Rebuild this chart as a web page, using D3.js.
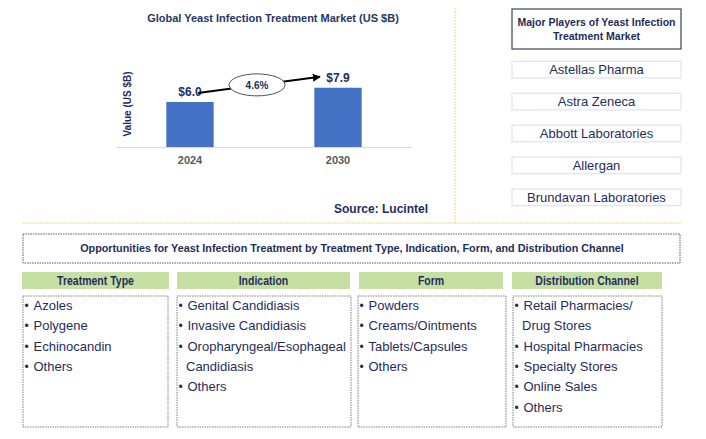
<!DOCTYPE html>
<html><head><meta charset="utf-8">
<script src="https://cdn.jsdelivr.net/npm/d3@7"></script>
<style>body{margin:0;background:#fff}svg{display:block}</style>
</head><body>
<svg id="c" width="706" height="439"></svg>
<script>
const years = ["2024", "2030"];
const values = [6.0, 7.9];
const valueLabels = ["$6.0", "$7.9"];
const cagr = "4.6%";
const chartTitle = "Global Yeast Infection Treatment Market (US $B)";
const yTitle = "Value (US $B)";
const source = "Source: Lucintel";
const playersTitle = ["Major Players of Yeast Infection", "Treatment Market"];
const players = ["Astellas Pharma", "Astra Zeneca", "Abbott Laboratories", "Allergan", "Brundavan Laboratories"];
const oppTitle = "Opportunities for Yeast Infection Treatment by Treatment Type, Indication, Form, and Distribution Channel";
const segments = ["Treatment Type", "Indication", "Form", "Distribution Channel"];
const treatmentTypes = [["Azoles"], ["Polygene"], ["Echinocandin"], ["Others"]];
const indications = [["Genital Candidiasis"], ["Invasive Candidiasis"], ["Oropharyngeal/Esophageal", "Candidiasis"], ["Others"]];
const forms = [["Powders"], ["Creams/Ointments"], ["Tablets/Capsules"], ["Others"]];
const channels = [["Retail Pharmacies/", "Drug Stores"], ["Hospital Pharmacies"], ["Specialty Stores"], ["Online Sales"], ["Others"]];
const segmentItems = [treatmentTypes, indications, forms, channels];

const svg = d3.select("#c");
const navy = "#1f2d5c";
const FONT = "'Liberation Sans', Arial, sans-serif";

function narrow(sel, factor) {
  sel.each(function () {
    const w = this.getComputedTextLength();
    d3.select(this).attr("textLength", w * factor).attr("lengthAdjust", "spacingAndGlyphs");
  });
}

// separators
svg.append("line").attr("x1", 455).attr("x2", 455).attr("y1", 8).attr("y2", 223)
  .attr("stroke", "#f7d774").attr("stroke-width", 1).attr("stroke-dasharray", "2,1");
svg.append("line").attr("x1", 22).attr("x2", 681).attr("y1", 223).attr("y2", 223)
  .attr("stroke", "#f7d774").attr("stroke-width", 1.2).attr("stroke-dasharray", "2,1");

// bar chart
const x = d3.scaleBand().domain(years).range([116, 412]).paddingInner(0.68).paddingOuter(0.34);
const y = d3.scaleLinear().domain([0, 10]).range([147, 72]);
const g = svg.append("g");
g.append("text").attr("x", 273).attr("y", 22).attr("text-anchor", "middle")
  .attr("font-family", FONT).attr("font-weight", "bold").attr("font-size", 11)
  .attr("fill", "#1f3864").text(chartTitle);
g.selectAll("rect.bar").data(values).join("rect").attr("class", "bar")
  .attr("x", (d, i) => x(years[i])).attr("width", x.bandwidth())
  .attr("y", d => y(d)).attr("height", d => y(0) - y(d)).attr("fill", "#4472c4");
const xAxis = g.append("g").attr("transform", `translate(0,${y(0)})`)
  .call(d3.axisBottom(x).tickSize(0).tickPadding(9));
xAxis.select(".domain").attr("stroke", "#d9d9d9");
xAxis.selectAll("text").attr("font-family", FONT).attr("font-weight", "bold")
  .attr("font-size", 11).attr("fill", "#595959");
g.selectAll("text.vl").data(values).join("text").attr("class", "vl")
  .attr("x", (d, i) => x(years[i]) + x.bandwidth() / 2).attr("y", d => y(d) - 6)
  .attr("text-anchor", "middle").attr("font-family", FONT).attr("font-weight", "bold")
  .attr("font-size", 12).attr("fill", navy).text((d, i) => valueLabels[i]);
g.append("text").attr("transform", "translate(131,104) rotate(-90)").attr("text-anchor", "middle")
  .attr("font-family", FONT).attr("font-weight", "bold").attr("font-size", 10)
  .attr("fill", navy).text(yTitle);

// arrow
svg.append("defs").append("marker").attr("id", "ah").attr("viewBox", "0 0 10 10")
  .attr("refX", 9).attr("refY", 5).attr("markerWidth", 4).attr("markerHeight", 4)
  .attr("orient", "auto").append("path").attr("d", "M0,0L10,5L0,10z").attr("fill", "#000");
const c0 = x(years[0]) + x.bandwidth() / 2, c1 = x(years[1]) + x.bandwidth() / 2;
const ax0 = c0 + 8, ay0 = y(values[0]) - 9, ax1 = c1 - 18, ay1 = y(values[1]) - 11;
g.append("line").attr("x1", ax0).attr("y1", ay0).attr("x2", ax1).attr("y2", ay1)
  .attr("stroke", "#000").attr("stroke-width", 2).attr("marker-end", "url(#ah)");
const ex = (ax0 + ax1) / 2 - 2, ey = (ay0 + ay1) / 2;
g.append("ellipse").attr("cx", ex).attr("cy", ey).attr("rx", 28).attr("ry", 11)
  .attr("fill", "#fff").attr("stroke", "#44546a").attr("stroke-width", 1);
g.append("text").attr("x", ex).attr("y", ey + 4).attr("text-anchor", "middle")
  .attr("font-family", FONT).attr("font-weight", "bold").attr("font-size", 10)
  .attr("fill", navy).text(cagr);
g.append("text").attr("x", 428).attr("y", 213).attr("text-anchor", "end")
  .attr("font-family", FONT).attr("font-weight", "bold").attr("font-size", 12)
  .attr("fill", navy).text(source);

// players
svg.append("rect").attr("x", 512).attr("y", 9).attr("width", 169).attr("height", 40)
  .attr("fill", "#fff").attr("stroke", "#44546a").attr("stroke-width", 1.3);
playersTitle.forEach((t, i) => svg.append("text").attr("x", 596.5).attr("y", 26 + i * 14)
  .attr("text-anchor", "middle").attr("font-family", FONT).attr("font-weight", "bold")
  .attr("font-size", 10.5).attr("fill", navy).text(t));
const py = d3.scaleBand().domain(players).range([55, 212]).paddingInner(0.48).paddingOuter(0.2);
const pg = svg.selectAll("g.pl").data(players).join("g").attr("class", "pl");
pg.append("rect").attr("x", 512).attr("width", 169).attr("y", d => py(d)).attr("height", py.bandwidth())
  .attr("fill", "#fff").attr("stroke", "#dce6f2").attr("stroke-width", 1.2);
pg.append("text").attr("x", 596.5).attr("y", d => py(d) + py.bandwidth() / 2 + 4.5)
  .attr("text-anchor", "middle").attr("font-family", FONT).attr("font-size", 13)
  .attr("fill", navy).text(d => d);

// opportunities
svg.append("rect").attr("x", 23).attr("y", 234).attr("width", 657).attr("height", 29)
  .attr("fill", "none").attr("stroke", "#595959").attr("stroke-width", 1).attr("stroke-dasharray", "1.5,1");
svg.append("text").attr("x", 352).attr("y", 252).attr("text-anchor", "middle")
  .attr("font-family", FONT).attr("font-weight", "bold").attr("font-size", 10.8)
  .attr("fill", navy).text(oppTitle);

const cols = [[22, 169], [177, 350], [359, 503], [512, 662]];
const boxes = [[23, 168], [177, 351], [358, 506], [513, 662]];
segments.forEach((s, i) => {
  svg.append("rect").attr("x", cols[i][0]).attr("y", 272).attr("width", cols[i][1] - cols[i][0]).attr("height", 17)
    .attr("fill", "#c6e0a4");
  svg.append("text").attr("x", (cols[i][0] + cols[i][1]) / 2).attr("y", 285).attr("text-anchor", "middle")
    .attr("font-family", FONT).attr("font-weight", "bold").attr("font-size", 12.5)
    .attr("fill", navy).text(s).call(narrow, 0.84);
  const b = boxes[i];
  svg.append("rect").attr("x", b[0]).attr("y", 296).attr("width", b[1] - b[0]).attr("height", 131)
    .attr("fill", "none").attr("stroke", "#7f7f7f").attr("stroke-width", 1).attr("stroke-dasharray", "1.5,1");
  let line = 0;
  segmentItems[i].forEach(item => {
    item.forEach((t, k) => {
      const ty = 310 + line * 20.3;
      if (k === 0) svg.append("text").attr("x", b[0] + 1.5).attr("y", ty)
        .attr("font-family", FONT).attr("font-size", 12).attr("fill", navy).text("•");
      svg.append("text").attr("x", b[0] + (k === 0 ? 10.5 : 9)).attr("y", ty)
        .attr("font-family", FONT).attr("font-size", 13).attr("fill", navy).text(t);
      line++;
    });
  });
});
</script>
</body></html>
